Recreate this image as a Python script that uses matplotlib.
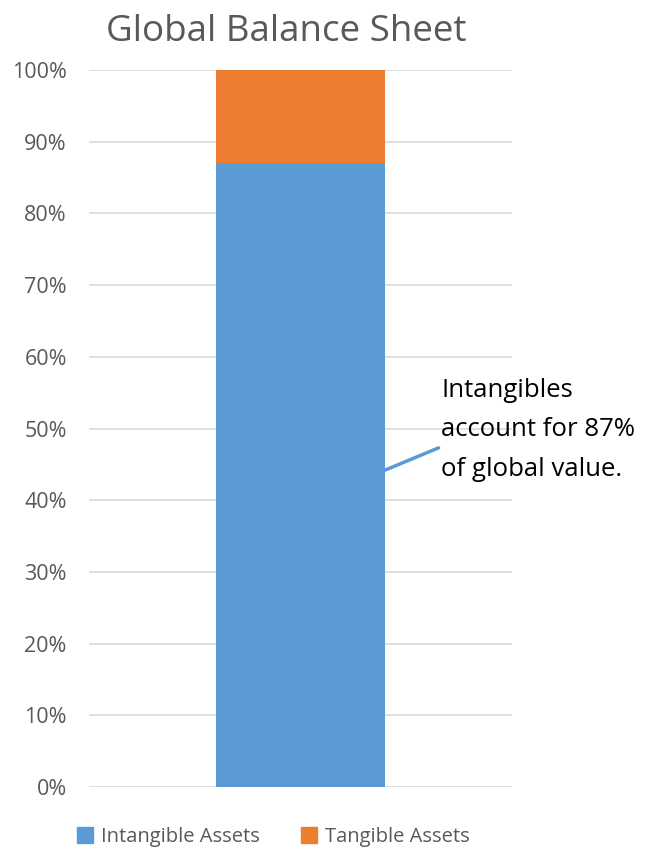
import matplotlib
matplotlib.use('Agg')
import matplotlib.pyplot as plt
from matplotlib.patches import Patch

plt.rcParams['font.family'] = ['Open Sans', 'DejaVu Sans']

# data
categories = ['Global']
series_names = ['Intangible Assets', 'Tangible Assets']
intangible = [87]
tangible = [13]
colors = ['#5B9BD5', '#ED7D31']
yticks = list(range(0, 101, 10))
note = 'Intangibles\naccount for 87%\nof global value.'

grey = '#595959'

fig = plt.figure(figsize=(6.54, 8.51), dpi=100)
ax = fig.add_axes([0.1361, 0.0752, 0.6468, 0.8425])

x = [0]
ax.bar(x, intangible, width=0.4, color=colors[0], zorder=3)
ax.bar(x, tangible, width=0.4, bottom=intangible, color=colors[1], zorder=3)

ax.set_xlim(-0.5, 0.5)
ax.set_ylim(0, 100)
ax.set_xticks([])
ax.set_yticks(yticks)
ax.set_yticklabels([f'{t}%' for t in yticks], fontsize=15.5, color=grey)
ax.tick_params(axis='y', length=0, pad=16)
ax.grid(axis='y', color='#D9D9D9', linewidth=1.2, zorder=0)
for s in ax.spines.values():
    s.set_visible(False)

ax.set_title('Global Balance Sheet', fontsize=26.5, color=grey, pad=21, x=0.466)

# callout
ax.annotate(note, xy=(0.2, 44.2), xytext=(0.333, 49.8),
            fontsize=18.5, color='#000000', ha='left', va='center',
            linespacing=1.74, annotation_clip=False,
            arrowprops=dict(arrowstyle='-', color=colors[0], lw=2.5,
                            shrinkA=0, shrinkB=0,
                            relpos=(-0.01, 0.33)))

handles = [Patch(color=c) for c in colors]
fig.legend(handles, series_names, loc='center', ncol=2,
           bbox_to_anchor=(0.418, 0.0165), frameon=False,
           fontsize=14.5, labelcolor=grey, handlelength=0.8, handleheight=0.8,
           handletextpad=0.4, columnspacing=2.0)

fig.savefig('out.png', dpi=100)
